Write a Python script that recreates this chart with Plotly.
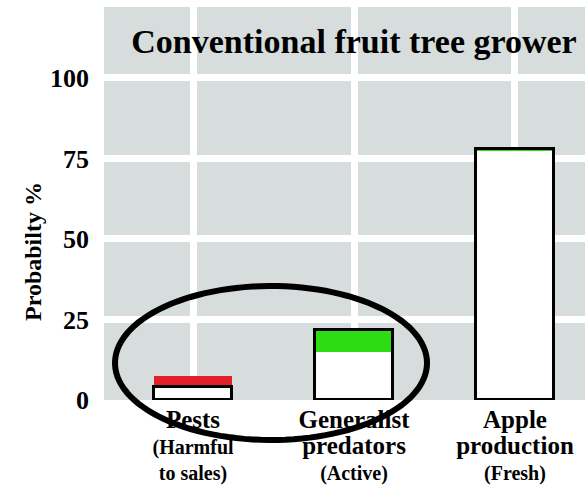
import numpy as np
import plotly.graph_objects as go

# ---- data ----
categories = ["Pests", "Generalist predators", "Apple production"]
tick_main = [["Pests"], ["Generalist", "predators"], ["Apple", "production"]]
tick_sub = [["(Harmful", "to sales)"], ["(Active)"], ["(Fresh)"]]
base_values = [4.0, 15.0, 77.3]      # white part of each bar
top_values = [3.5, 6.6, 0.5]         # coloured part stacked on top
top_colors = ["#e2202c", "#2ddc12", "#2ddc12"]
outline_whole = [False, True, True]  # outline around white only (Pests) or whole bar
y_ticks = [0, 25, 50, 75, 100]

FONT = "Liberation Serif"
W, H = 585, 487
ML, MR, MT, MB = 104, 0, 7, 87

outline_h = [b + t if o else b for b, t, o in zip(base_values, top_values, outline_whole)]
xs = list(range(len(categories)))

ticktext = []
for m, s in zip(tick_main, tick_sub):
    parts = ["<span style='font-size:25px'>%s</span>" % w for w in m] + s
    ticktext.append("<br>".join(parts))

fig = go.Figure()
fig.add_trace(go.Bar(x=xs, y=base_values, base=0, width=0.49,
                     marker=dict(color="white", line=dict(width=0)),
                     showlegend=False, hoverinfo="skip"))
fig.add_trace(go.Bar(x=xs, y=top_values, base=base_values, width=0.49,
                     marker=dict(color=top_colors, line=dict(width=0)),
                     showlegend=False, hoverinfo="skip"))
fig.add_trace(go.Bar(x=xs, y=outline_h, base=0, width=0.49,
                     marker=dict(color="rgba(0,0,0,0)", line=dict(width=3, color="black")),
                     showlegend=False, hoverinfo="skip"))

# highlight ellipse (pixel geometry -> paper coordinates)
cx, cy, ra, rb = 271, 363, 156, 77
t = np.linspace(0, 2 * np.pi, 120)
px = cx + ra * np.cos(t)
py = cy + rb * np.sin(t)
plot_w = W - ML - MR
plot_h = H - MT - MB
xp = (px - ML) / plot_w
yp = (H - MB - py) / plot_h
path = "M " + " L ".join("%.4f,%.4f" % (a, b) for a, b in zip(xp, yp)) + " Z"

fig.update_layout(
    width=W, height=H,
    margin=dict(l=ML, r=MR, t=MT, b=MB, autoexpand=False),
    paper_bgcolor="white",
    plot_bgcolor="#d6dddc",
    barmode="overlay",
    bargap=0,
    title=dict(text="Conventional fruit tree grower",
               font=dict(family=FONT, size=34, color="black", weight="bold"),
               x=354 / W, xanchor="center", xref="container",
               y=1 - 41 / H, yanchor="middle", yref="container"),
    xaxis=dict(range=[-0.553, 2.435], tickmode="array", tickvals=xs, ticktext=ticktext,
               showgrid=True, gridcolor="white", gridwidth=7, zeroline=False,
               showline=False, ticks="", ticklabelstandoff=7, automargin=False,
               tickfont=dict(family=FONT, size=20, color="black", weight="bold")),
    yaxis=dict(range=[0, 122], tickmode="array", tickvals=y_ticks,
               showgrid=True, gridcolor="white", gridwidth=7, zeroline=False,
               showline=False, ticks="", ticklabelstandoff=14, automargin=False,
               tickfont=dict(family=FONT, size=26, color="black", weight="bold")),
    shapes=[dict(type="path", path=path, xref="paper", yref="paper",
                 line=dict(color="black", width=6), fillcolor="rgba(0,0,0,0)", layer="above")],
    annotations=[dict(text="Probabilty %", textangle=-90, xref="paper", yref="paper",
                      x=(33 - ML) / plot_w, y=(H - MB - 252) / plot_h,
                      xanchor="center", yanchor="middle", showarrow=False,
                      font=dict(family=FONT, size=24, color="black", weight="bold"))],
)

fig.write_html("out.html", config={"displayModeBar": False},
               post_script="document.body.style.margin='0px';document.body.style.overflow='hidden';")
